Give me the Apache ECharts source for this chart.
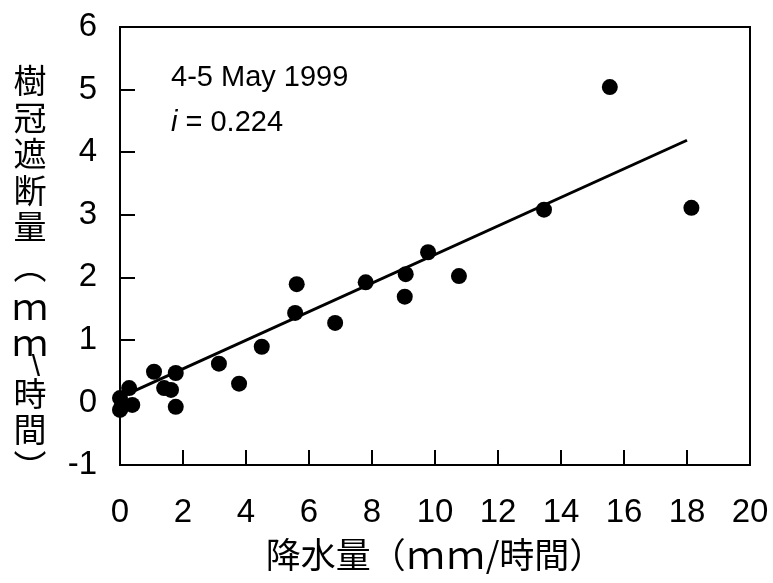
<!DOCTYPE html>
<html>
<head>
<meta charset="utf-8">
<script src="https://cdn.jsdelivr.net/npm/echarts@6/dist/echarts.min.js"></script>
<style>html,body{margin:0;padding:0;background:#fff;}#c{width:773px;height:583px;}</style>
</head>
<body>
<div id="c"></div>
<script>
// Rainfall (mm/h) vs canopy interception (mm/h), 4-5 May 1999
const rainfall = [15.55, 18.14, 13.46, 9.78, 9.07, 9.04, 10.76, 7.80, 5.61, 5.56, 6.83, 4.50, 3.14, 3.78, 1.77, 1.77, 1.08, 1.40, 1.62, 0.29, 0.00, 0.05, 0.39, 0.00];
const interception = [5.04, 3.11, 3.08, 2.40, 2.05, 1.69, 2.02, 1.92, 1.89, 1.43, 1.27, 0.89, 0.62, 0.30, -0.07, 0.47, 0.49, 0.23, 0.20, 0.23, 0.07, -0.07, -0.04, -0.12];
// regression line end points
const fitX = [0, 18.0];
const fitY = [0.08, 4.19];
const xTicks = [0, 2, 4, 6, 8, 10, 12, 14, 16, 18, 20];
const yTicks = [-1, 0, 1, 2, 3, 4, 5, 6];
const yTitleChars = ['樹', '冠', '遮', '断', '量', '︵', 'ｍ', 'ｍ', '\\', '時', '間', '︶'];
const xTitleParts = ['降水量（', 'ｍ', 'ｍ', '/時間）'];
const annot1 = '4-5 May 1999';
const annot2 = ' = 0.224';

const chart = echarts.init(document.getElementById('c'));
const pts = rainfall.map((v, i) => [v, interception[i]]);
const fit = fitX.map((v, i) => [v, fitY[i]]);

const yTitle = yTitleChars.map((ch) => {
  let st = 'k';
  if (ch === '︵') st = 'po';
  else if (ch === 'ｍ') st = 'm';
  else if (ch === '\\') st = 's';
  return '{' + st + '|' + ch + '}';
}).join('\n');
const xTitle = '{k|' + xTitleParts[0] + '}{m|' + xTitleParts[1] + '}{m|' + xTitleParts[2] + '}{k|' + xTitleParts[3] + '}';

const black = '#000';
const cjk = '"Noto Sans CJK JP", sans-serif';
const lat = '"Liberation Sans", Arial, sans-serif';

chart.setOption({
  animation: false,
  backgroundColor: '#fff',
  grid: { left: 120, right: 23, top: 27, bottom: 118, show: true, borderColor: black, borderWidth: 2, backgroundColor: 'transparent' },
  xAxis: {
    type: 'value', min: xTicks[0], max: xTicks[xTicks.length - 1], interval: 2,
    axisLine: { show: true, onZero: false, lineStyle: { color: black, width: 2 } },
    axisTick: { show: true, inside: true, length: 15, lineStyle: { color: black, width: 2 } },
    axisLabel: { color: black, fontFamily: lat, fontSize: 33, margin: 31 },
    splitLine: { show: false },
    name: xTitle, nameLocation: 'middle', nameGap: 71,
    nameTextStyle: {
      color: black, fontFamily: cjk, fontSize: 35,
      rich: {
        k: { fontFamily: cjk, fontSize: 35, color: black },
        m: { fontFamily: cjk, fontSize: 38, color: black, width: 40, align: 'center' }
      }
    }
  },
  yAxis: {
    type: 'value', min: yTicks[0], max: yTicks[yTicks.length - 1], interval: 1,
    axisLine: { show: true, onZero: false, lineStyle: { color: black, width: 2 } },
    axisTick: { show: true, inside: true, length: 15, lineStyle: { color: black, width: 2 } },
    axisLabel: { color: black, fontFamily: lat, fontSize: 33, margin: 23 },
    splitLine: { show: false }
  },
  graphic: [
    {
      type: 'text', left: 12, top: 64, z: 10,
      style: {
        text: yTitle, fill: black, align: 'center',
        rich: {
          k: { fontFamily: cjk, fontSize: 33, lineHeight: 36.5, fill: black, align: 'center' },
          po: { fontFamily: cjk, fontSize: 33, lineHeight: 44, fill: black, align: 'center' },
          m: { fontFamily: cjk, fontSize: 36, lineHeight: 36, fill: black, align: 'center' },
          s: { fontFamily: lat, fontSize: 30, lineHeight: 14, fill: black, align: 'center', padding: [0, 0, 0, 12] }
        }
      }
    },
    {
      type: 'text', left: 171, top: 55, z: 10,
      style: {
        text: annot1 + '\n{i|i}{n|' + annot2 + '}', fill: black,
        fontFamily: lat, fontSize: 29, lineHeight: 45,
        rich: {
          i: { fontFamily: lat, fontSize: 29, fontStyle: 'italic', fill: black, lineHeight: 45 },
          n: { fontFamily: lat, fontSize: 29, fill: black, lineHeight: 45 }
        }
      }
    }
  ],
  series: [
    {
      type: 'line', data: fit, symbol: 'none', silent: true,
      lineStyle: { color: black, width: 3 }, z: 2
    },
    {
      type: 'scatter', data: pts, symbol: 'circle', symbolSize: 16,
      itemStyle: { color: black, opacity: 1 }, z: 3
    }
  ]
});
</script>
</body>
</html>
